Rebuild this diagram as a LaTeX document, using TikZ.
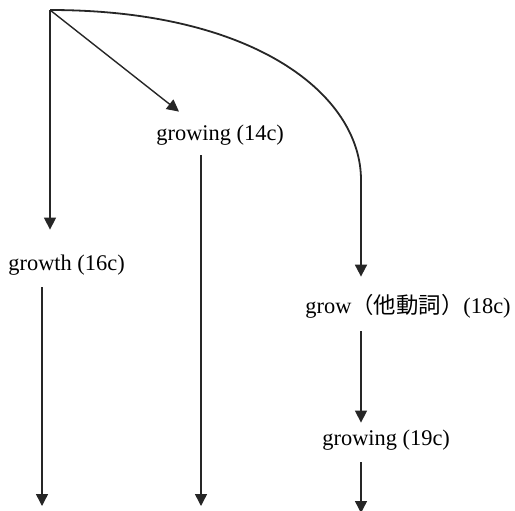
\documentclass[tikz,border=0pt]{standalone}
\usepackage{fontspec}
\setmainfont{Liberation Serif}
\newfontfamily\cjk{Noto Sans CJK JP}
\usetikzlibrary{arrows.meta,calc}
\begin{document}
\begin{tikzpicture}[x=0.5pt,y=-0.5pt,
  lbl/.style={inner sep=0pt,anchor=base west,text height=8.5pt,text depth=2.5pt,
    font=\fontsize{11.2}{13}\selectfont},
  arr/.style={line width=0.7pt,draw={black!85},-{Triangle[length=6pt,width=6pt]}}]
\useasboundingbox (0,0) rectangle (515,510);
\coordinate (root) at (50,10);
\coordinate (bend) at (361,180);
\node[lbl] (growing14) at (156,140) {growing (14c)};
\node[lbl] (growth) at (8,270) {growth (16c)};
\node[lbl] (grow18) at (305,313) {grow{\cjk （他動詞）}(18c)};
\node[lbl] (growing19) at (322,445) {growing (19c)};
\coordinate (end1) at (42,506);
\coordinate (end2) at (201,506);
\coordinate (end3) at (361,513);
% from root
\draw[arr,shorten >=11.5pt] (root) -- (root |- growth.north);
\draw[arr] (root) -- ($(growing14.north west)+(23,-11)$);
\draw[arr,line width=0.9pt,shorten >=9.5pt] (root) .. controls (255,10) and (361,95) .. (bend) -- (bend |- grow18.north);
% downward
\draw[arr,shorten <=6pt] (growth.south -| end1) -- (end1);
\draw[arr,shorten <=5pt] (growing14.south -| end2) -- (end2);
\draw[arr,shorten <=6.5pt,shorten >=2.5pt] (bend |- grow18.south) -- (bend |- growing19.north);
\draw[arr,shorten <=6pt] (growing19.south -| end3) -- (end3);
\end{tikzpicture}
\end{document}
